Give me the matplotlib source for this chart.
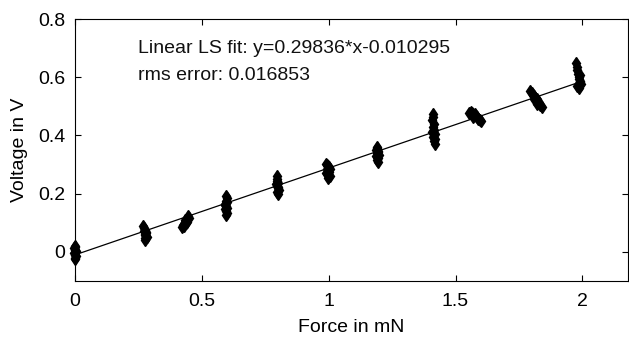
import matplotlib
matplotlib.use("Agg")
import matplotlib.pyplot as plt
from matplotlib.ticker import FuncFormatter

# -----------------------------
# Data
# -----------------------------
SLOPE = 0.29836
OFFSET = -0.010295
RMS = 0.016853

force_0 = [0.0, 0.0, 0.002, 0.0, -0.002, 0.0, 0.002, 0.0, -0.002, 0.0, 0.0, 0.001]
volt_0 = [-0.025, -0.02, -0.015, -0.01, -0.005, 0.0, 0.004, 0.008, 0.012, 0.016, 0.02, -0.002]

force_1 = [0.27, 0.272, 0.275, 0.278, 0.28, 0.276, 0.274, 0.279, 0.282, 0.277, 0.273, 0.276]
volt_1 = [0.088, 0.082, 0.076, 0.07, 0.066, 0.062, 0.058, 0.054, 0.05, 0.046, 0.072, 0.04]

force_2 = [0.445, 0.448, 0.44, 0.436, 0.432, 0.438, 0.428, 0.424, 0.43, 0.42, 0.442, 0.434]
volt_2 = [0.122, 0.116, 0.112, 0.108, 0.104, 0.1, 0.096, 0.092, 0.088, 0.084, 0.104, 0.11]

force_3 = [0.596, 0.598, 0.594, 0.6, 0.592, 0.596, 0.598, 0.59, 0.594, 0.6, 0.596, 0.593]
volt_3 = [0.192, 0.184, 0.176, 0.17, 0.164, 0.158, 0.152, 0.146, 0.14, 0.134, 0.128, 0.162]

force_4 = [0.796, 0.798, 0.795, 0.8, 0.793, 0.797, 0.802, 0.799, 0.804, 0.797, 0.801, 0.798]
volt_4 = [0.26, 0.252, 0.244, 0.238, 0.232, 0.228, 0.224, 0.218, 0.212, 0.206, 0.2, 0.236]

force_5 = [0.99, 0.994, 0.998, 1.0, 1.004, 0.992, 0.996, 1.002, 0.988, 0.994, 1.006, 0.998]
volt_5 = [0.302, 0.298, 0.294, 0.29, 0.286, 0.284, 0.28, 0.276, 0.272, 0.266, 0.26, 0.254]

force_6 = [1.19, 1.192, 1.188, 1.196, 1.194, 1.19, 1.198, 1.186, 1.192, 1.196, 1.19, 1.194]
volt_6 = [0.362, 0.356, 0.35, 0.346, 0.342, 0.338, 0.334, 0.33, 0.326, 0.322, 0.316, 0.31]

force_7 = [1.41, 1.412, 1.408, 1.414, 1.41, 1.416, 1.408, 1.418, 1.412, 1.42, 1.414, 1.418]
volt_7 = [0.472, 0.462, 0.452, 0.44, 0.43, 0.42, 0.412, 0.404, 0.396, 0.388, 0.38, 0.37]

force_8 = [1.555, 1.56, 1.565, 1.57, 1.575, 1.58, 1.585, 1.59, 1.595, 1.6, 1.568, 1.578]
volt_8 = [0.476, 0.48, 0.478, 0.474, 0.47, 0.466, 0.462, 0.458, 0.454, 0.448, 0.462, 0.472]

force_9 = [1.795, 1.8, 1.805, 1.81, 1.815, 1.82, 1.825, 1.83, 1.835, 1.84, 1.808, 1.822]
volt_9 = [0.552, 0.546, 0.54, 0.536, 0.53, 0.524, 0.518, 0.512, 0.504, 0.496, 0.524, 0.508]

force_10 = [1.975, 1.978, 1.98, 1.982, 1.985, 1.988, 1.99, 1.992, 1.995, 1.98, 1.985, 1.99]
volt_10 = [0.648, 0.636, 0.624, 0.612, 0.6, 0.594, 0.588, 0.582, 0.576, 0.57, 0.564, 0.606]

forces = [force_0, force_1, force_2, force_3, force_4, force_5,
          force_6, force_7, force_8, force_9, force_10]
volts = [volt_0, volt_1, volt_2, volt_3, volt_4, volt_5,
         volt_6, volt_7, volt_8, volt_9, volt_10]

FIT_X = [0.0, 1.99]

# -----------------------------
# Plot
# -----------------------------
plt.rcParams['font.family'] = ['Liberation Sans', 'DejaVu Sans']
FS = 14

fig = plt.figure(figsize=(6.29, 3.37), dpi=100)
ax = fig.add_axes([75 / 629, 56 / 337, 553 / 629, 262 / 337])

for fx, vy in zip(forces, volts):
    ax.plot(fx, vy, linestyle='none', marker='d', markersize=6,
            color='black', clip_on=False, zorder=3)

fit_y = [SLOPE * x + OFFSET for x in FIT_X]
ax.plot(FIT_X, fit_y, color='black', linewidth=0.9, zorder=2)

ax.text(0.25, 0.70, f"Linear LS fit: y={SLOPE}*x{OFFSET}", fontsize=FS,
        va='center', ha='left', color='#111111')
ax.text(0.25, 0.605, f"rms error: {RMS}", fontsize=FS, va='center',
        ha='left', color='#111111')

ax.set_xlim(0, 2.18)
ax.set_ylim(-0.1, 0.8)
ax.set_xticks([0, 0.5, 1, 1.5, 2])
ax.set_yticks([0, 0.2, 0.4, 0.6, 0.8])
fmt = FuncFormatter(lambda v, p: f"{v:g}")
ax.xaxis.set_major_formatter(fmt)
ax.yaxis.set_major_formatter(fmt)
ax.tick_params(direction='in', length=4, width=0.8, top=True, right=True,
               labelsize=FS)
ax.tick_params(axis='x', pad=9)
ax.tick_params(axis='y', pad=7)
for s in ax.spines.values():
    s.set_linewidth(0.8)

ax.set_xlabel("Force in mN", fontsize=FS, labelpad=6)
ax.set_ylabel("Voltage in V", fontsize=FS, labelpad=7)

fig.savefig("out.png", dpi=100)
